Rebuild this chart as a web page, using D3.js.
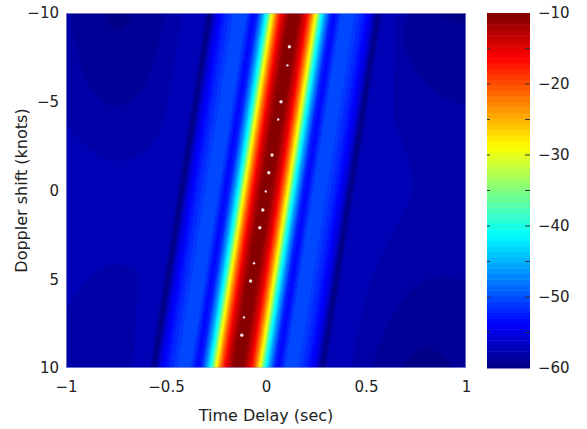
<!DOCTYPE html>
<html>
<head>
<meta charset="utf-8">
<script src="https://cdn.jsdelivr.net/npm/d3@7"></script>
<style>
  body { margin: 0; background: #fff; }
  svg { display: block; }
</style>
</head>
<body>
<script>
"use strict"

// axis ticks
var xTicks = [-1, -0.5, 0, 0.5, 1];
var yTicks = [-10, -5, 0, 5, 10];
var cTicks = [-10, -20, -30, -40, -50, -60];
var cMinor = [-15, -20, -25, -30, -35, -40, -45, -50, -55];

// ridge centre (delay in sec) read along doppler rows
var ridgeDoppler = [-10, -5, 0, 5, 10];
var ridgeDelay = [0.14, 0.07, 0.0, -0.07, -0.14];

// cut across the ridge: offset from ridge centre (sec) -> level (dB)
var profileOffset = [0, 0.03, 0.06, 0.085, 0.11, 0.135, 0.16, 0.185, 0.205, 0.24, 0.30, 0.35, 0.39, 0.42, 0.45, 0.55, 0.7, 0.9, 1.2];
var profileDb = [-10, -11, -15, -21, -29, -40, -47, -52.5, -53.5, -50.3, -50.5, -52.5, -55.5, -60, -57, -56.5, -57, -57, -58];

// background level far from ridge (rows = doppler, cols = delay)
var floorDelay = [-1, -0.75, -0.5, -0.25, 0, 0.25, 0.5, 0.75, 1];
var floorDoppler = [-10, -5, 0, 5, 10];
var floorDb = [
  [-58.3, -59.8, -58.5, -56.5, -56.5, -56.5, -57.5, -59.3, -59.3],
  [-58, -59, -58, -56.5, -56.5, -56.5, -57, -58.3, -58.5],
  [-56.8, -57, -57, -56.5, -56.5, -56.5, -57, -57.5, -57.5],
  [-57.5, -58, -57.5, -56.5, -56.5, -56.5, -57.5, -58.5, -58.5],
  [-58, -58.5, -58, -56.5, -56.5, -56.5, -58.3, -59.8, -59]
];

// white markers on the ridge
var dotDoppler = [-8.1, -7.05, -5.0, -4.0, -2.0, -1.0, 0.05, 1.1, 2.1, 4.1, 5.1, 7.15, 8.15];
var dotDelay = [0.117, 0.107, 0.075, 0.061, 0.030, 0.014, -0.001, -0.016, -0.031, -0.060, -0.077, -0.110, -0.121];
var dotBig = [1, 0, 1, 0, 1, 1, 0, 1, 1, 0, 1, 0, 1];

var W = 587, H = 429;
var plot = {left: 66, top: 13, width: 400, height: 355};
var cbar = {left: 487, top: 13, width: 43, height: 355};

// matlab jet, 64 levels
function jet(t) {
  var r = Math.min(Math.max(Math.min(4 * t - 1.5, -4 * t + 4.5), 0), 1);
  var g = Math.min(Math.max(Math.min(4 * t - 0.5, -4 * t + 3.5), 0), 1);
  var b = Math.min(Math.max(Math.min(4 * t + 0.5, -4 * t + 2.5), 0), 1);
  return d3.rgb(r * 255, g * 255, b * 255);
}
var jetColors = d3.range(64).map(function(i) { return jet((i + 0.5) / 64); });

var color = d3.scaleQuantize().domain([-60, -10]).range(jetColors);

var x = d3.scaleLinear().domain([-1, 1]).range([plot.left, plot.left + plot.width]);
var y = d3.scaleLinear().domain([-10, 10]).range([plot.top, plot.top + plot.height]);
var cy = d3.scaleLinear().domain([-60, -10]).range([cbar.top + cbar.height, cbar.top]);

var ridge = d3.scaleLinear().domain(ridgeDoppler).range(ridgeDelay);
var profile = d3.scaleLinear().domain(profileOffset).range(profileDb).clamp(true);
var fu = d3.scaleLinear().domain([-1, 1]).range([0, 1]).clamp(true);
var fv = d3.scaleLinear().domain([-10, 10]).range([0, 1]).clamp(true);
var rowSplines = floorDb.map(function(row) { return d3.interpolateBasis(row); });
var blend = d3.scaleLinear().domain([0.44, 0.58]).range([0, 1]).clamp(true);

// paint the field into a canvas
var canvas = document.createElement("canvas");
canvas.width = plot.width;
canvas.height = plot.height;
var ctx = canvas.getContext("2d");
var img = ctx.createImageData(plot.width, plot.height);
var colFloor = d3.range(plot.width).map(function(px) {
  var u = fu(x.invert(plot.left + px + 0.5));
  return d3.interpolateBasis(rowSplines.map(function(s) { return s(u); }));
});
for (var py = 0; py < plot.height; py++) {
  var d = y.invert(plot.top + py + 0.5);
  var c0 = ridge(d);
  var vv = fv(d);
  for (var px = 0; px < plot.width; px++) {
    var t = x.invert(plot.left + px + 0.5);
    var off = Math.abs(t - c0);
    var p = profile(off);
    var w = blend(off);
    var v = p;
    if (w > 0) v = p + w * (Math.min(p, colFloor[px](vv)) - p);
    var c = color(v);
    var k = (py * plot.width + px) * 4;
    img.data[k] = c.r;
    img.data[k + 1] = c.g;
    img.data[k + 2] = c.b;
    img.data[k + 3] = 255;
  }
}
ctx.putImageData(img, 0, 0);

var svg = d3.select("body").append("svg")
    .attr("width", W)
    .attr("height", H)
    .style("font-family", "DejaVu Sans, sans-serif");

svg.append("image")
    .attr("x", plot.left)
    .attr("y", plot.top)
    .attr("width", plot.width)
    .attr("height", plot.height)
    .attr("preserveAspectRatio", "none")
    .attr("href", canvas.toDataURL());

svg.append("rect")
    .attr("x", plot.left + 0.5)
    .attr("y", plot.top + 0.5)
    .attr("width", plot.width - 1)
    .attr("height", plot.height - 1)
    .attr("fill", "none")
    .attr("stroke", "#b8b8e8")
    .attr("stroke-opacity", 0.6);

// ridge markers
svg.append("g").selectAll("circle")
    .data(dotDelay)
  .enter().append("circle")
    .attr("cx", function(dd) { return x(dd); })
    .attr("cy", function(dd, i) { return y(dotDoppler[i]); })
    .attr("r", function(dd, i) { return dotBig[i] ? 1.7 : 1.2; })
    .attr("fill", "#f6e0e8");

// axes
var fmt = function(v) { return d3.format("")(v).replace("-", "\u2212"); };

var gx = svg.append("g")
    .attr("transform", "translate(0," + (plot.top + plot.height) + ")")
    .call(d3.axisBottom(x).tickValues(xTicks).tickSize(0).tickPadding(13).tickFormat(fmt));
var gy = svg.append("g")
    .attr("transform", "translate(" + plot.left + ",0)")
    .call(d3.axisLeft(y).tickValues(yTicks).tickSize(0).tickPadding(7).tickFormat(fmt));
[gx, gy].forEach(function(g) {
  g.select(".domain").remove();
  g.selectAll("text").attr("font-size", "15px").attr("font-family", "DejaVu Sans, sans-serif").attr("fill", "#222");
});

svg.append("text")
    .attr("x", plot.left + plot.width / 2)
    .attr("y", 421)
    .attr("text-anchor", "middle")
    .attr("font-size", "16px")
    .attr("fill", "#222")
    .text("Time Delay (sec)");

svg.append("text")
    .attr("transform", "translate(27," + (plot.top + plot.height / 2) + ") rotate(-90)")
    .attr("text-anchor", "middle")
    .attr("font-size", "16px")
    .attr("fill", "#222")
    .text("Doppler shift (knots)");

// colorbar
var band = cbar.height / jetColors.length;
svg.append("g").selectAll("rect")
    .data(jetColors)
  .enter().append("rect")
    .attr("x", cbar.left)
    .attr("y", function(c, i) { return cbar.top + cbar.height - (i + 1) * band; })
    .attr("width", cbar.width)
    .attr("height", band + 0.5)
    .attr("fill", function(c) { return c; });

var ticks = svg.append("g");
cMinor.forEach(function(v) {
  ticks.append("line")
      .attr("x1", cbar.left).attr("x2", cbar.left + 3)
      .attr("y1", cy(v)).attr("y2", cy(v))
      .attr("stroke", "#333");
  ticks.append("line")
      .attr("x1", cbar.left + cbar.width - 5).attr("x2", cbar.left + cbar.width)
      .attr("y1", cy(v)).attr("y2", cy(v))
      .attr("stroke", "#333");
});

svg.append("g").selectAll("text")
    .data(cTicks)
  .enter().append("text")
    .attr("x", cbar.left + cbar.width + 8)
    .attr("y", function(v) { return cy(v); })
    .attr("dy", "0.35em")
    .attr("font-size", "15px")
    .attr("fill", "#222")
    .text(fmt);
</script>
</body>
</html>
